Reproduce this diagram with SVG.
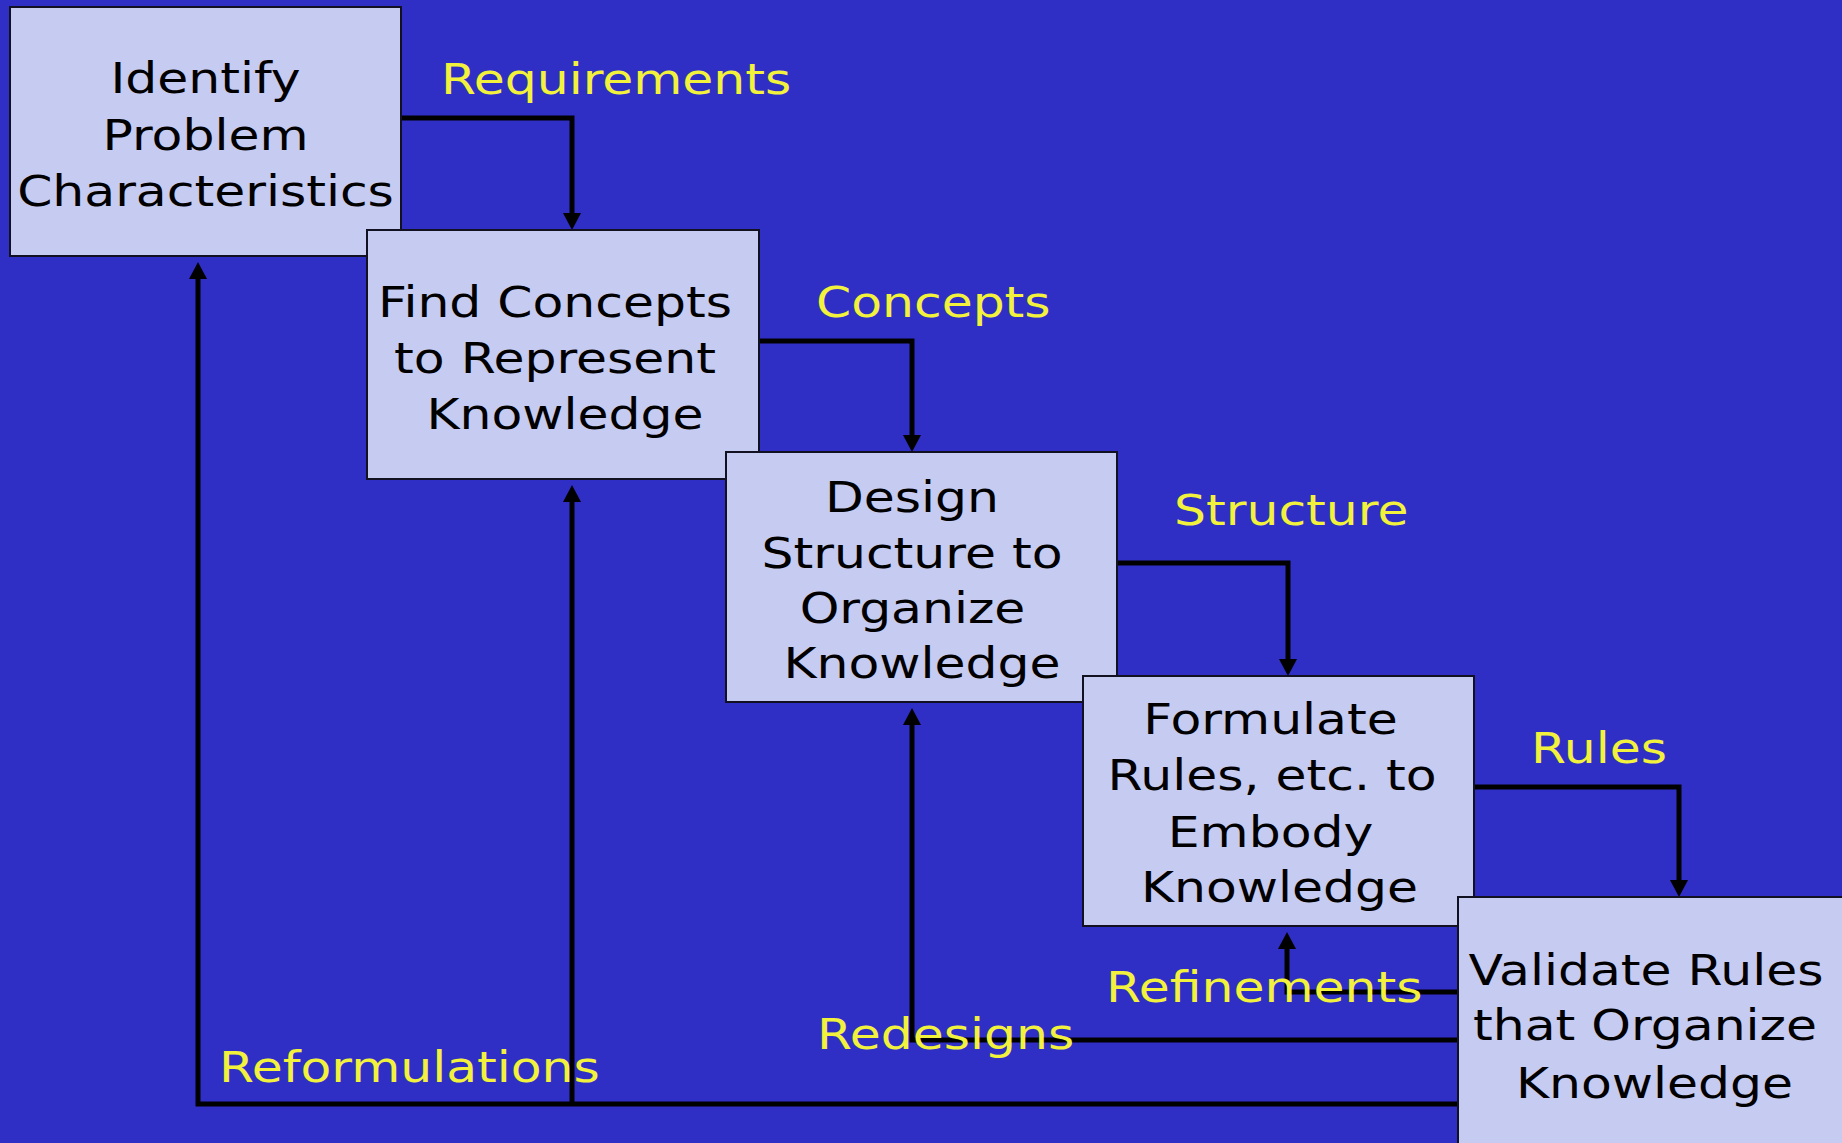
<svg xmlns="http://www.w3.org/2000/svg" width="1842" height="1143" viewBox="0 0 1842 1143">
  <style>
    .box { fill: #c6cbf1; stroke: #111122; stroke-width: 2; }
    .t { font-family: "DejaVu Sans", Verdana, sans-serif; font-size: 42px; fill: #000000; text-anchor: middle; }
    .lbl { font-family: "DejaVu Sans", Verdana, sans-serif; font-size: 42px; fill: #f2f23c; text-anchor: start; }
    .wire { fill: none; stroke: #000000; stroke-width: 5; stroke-linejoin: miter; stroke-linecap: butt; }
  </style>
  <defs>
    <marker id="head" viewBox="0 0 17 18" markerUnits="userSpaceOnUse" markerWidth="17" markerHeight="18" refX="5" refY="9" orient="auto">
      <path d="M0,0 L17,9 L0,18 Z" fill="#000000"/>
    </marker>
  </defs>

  <rect x="0" y="0" width="1842" height="1143" fill="#2f2fc6"/>

  <!-- flow connectors -->
  <g id="connectors">
    <path class="wire" d="M401 118 H572 V218" marker-end="url(#head)"/>
    <path class="wire" d="M759 341 H912 V440" marker-end="url(#head)"/>
    <path class="wire" d="M1117 563 H1288 V664" marker-end="url(#head)"/>
    <path class="wire" d="M1474 787 H1679 V885" marker-end="url(#head)"/>
    <path class="wire" d="M1458 992 H1287 V944" marker-end="url(#head)"/>
    <path class="wire" d="M1458 1040 H912 V720" marker-end="url(#head)"/>
    <path class="wire" d="M1458 1104 H198 V274" marker-end="url(#head)"/>
    <path class="wire" d="M572 1104 V497" marker-end="url(#head)"/>
  </g>

  <g id="labels">
    <text class="lbl" transform="translate(441 94) scale(1.2 1)">Requirements</text>
    <text class="lbl" transform="translate(816 317) scale(1.2 1)">Concepts</text>
    <text class="lbl" transform="translate(1174 525) scale(1.2 1)">Structure</text>
    <text class="lbl" transform="translate(1531 763) scale(1.2 1)">Rules</text>
    <text class="lbl" transform="translate(1106 1002) scale(1.2 1)">Refinements</text>
    <text class="lbl" transform="translate(817 1049) scale(1.2 1)">Redesigns</text>
    <text class="lbl" transform="translate(219 1082) scale(1.2 1)">Reformulations</text>
  </g>

  <g id="identify">
    <rect class="box" x="10" y="7" width="391" height="249"/>
    <text class="t" transform="translate(205.5 93) scale(1.2 1)">Identify</text>
    <text class="t" transform="translate(205.5 150) scale(1.2 1)">Problem</text>
    <text class="t" transform="translate(205.5 206) scale(1.2 1)">Characteristics</text>
  </g>

  <g id="find-concepts">
    <rect class="box" x="367" y="230" width="392" height="249"/>
    <text class="t" transform="translate(555 317) scale(1.2 1)">Find Concepts</text>
    <text class="t" transform="translate(555 373) scale(1.2 1)">to Represent</text>
    <text class="t" transform="translate(565 429) scale(1.2 1)">Knowledge</text>
  </g>

  <g id="design-structure">
    <rect class="box" x="726" y="452" width="391" height="250"/>
    <text class="t" transform="translate(912 512) scale(1.2 1)">Design</text>
    <text class="t" transform="translate(912 568) scale(1.2 1)">Structure to</text>
    <text class="t" transform="translate(912.5 623) scale(1.2 1)">Organize</text>
    <text class="t" transform="translate(922 678) scale(1.2 1)">Knowledge</text>
  </g>

  <g id="formulate-rules">
    <rect class="box" x="1083" y="676" width="391" height="250"/>
    <text class="t" transform="translate(1270.5 734) scale(1.2 1)">Formulate</text>
    <text class="t" transform="translate(1272 790) scale(1.2 1)">Rules, etc. to</text>
    <text class="t" transform="translate(1270.5 847) scale(1.2 1)">Embody</text>
    <text class="t" transform="translate(1279.5 902) scale(1.2 1)">Knowledge</text>
  </g>

  <g id="validate-rules">
    <rect class="box" x="1458" y="897" width="392" height="260"/>
    <text class="t" transform="translate(1646 985) scale(1.2 1)">Validate Rules</text>
    <text class="t" transform="translate(1645 1040) scale(1.2 1)">that Organize</text>
    <text class="t" transform="translate(1654.5 1098) scale(1.2 1)">Knowledge</text>
  </g>
</svg>
